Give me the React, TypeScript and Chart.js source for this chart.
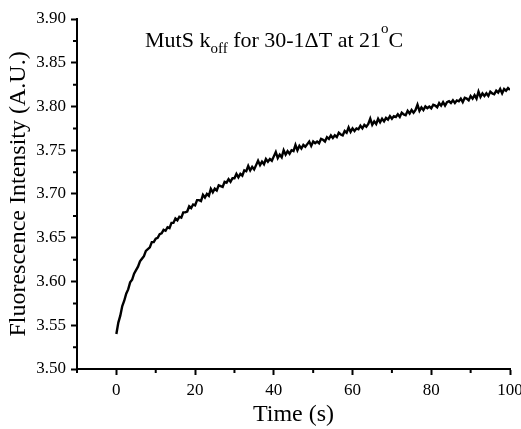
import React, { useEffect, useRef } from "react";
import { Chart, registerables } from "chart.js";

Chart.register(...registerables);

const TIME_STEP = 0.5; // seconds between samples
const intensity = [
  3.540, 3.553, 3.561, 3.572, 3.578, 3.586, 3.591, 3.599, 3.602, 3.609, 3.613, 3.617, 3.623, 3.626, 3.629, 3.635, 3.637, 3.639, 3.645, 3.645, 3.649,
  3.650, 3.654, 3.655, 3.659, 3.658, 3.662, 3.661, 3.667, 3.667, 3.672, 3.670, 3.674, 3.673, 3.679, 3.679, 3.680, 3.686, 3.684, 3.688, 3.687,
  3.693, 3.693, 3.692, 3.699, 3.696, 3.700, 3.698, 3.706, 3.702, 3.706, 3.704, 3.710, 3.709, 3.708, 3.714, 3.713, 3.717, 3.714, 3.718, 3.718,
  3.723, 3.719, 3.723, 3.721, 3.727, 3.726, 3.732, 3.727, 3.731, 3.728, 3.733, 3.738, 3.733, 3.737, 3.734, 3.740, 3.737, 3.740, 3.738, 3.743,
  3.748, 3.741, 3.745, 3.742, 3.750, 3.745, 3.749, 3.746, 3.750, 3.749, 3.756, 3.750, 3.755, 3.752, 3.756, 3.754, 3.757, 3.760, 3.755, 3.760,
  3.758, 3.760, 3.758, 3.763, 3.762, 3.760, 3.765, 3.763, 3.767, 3.764, 3.767, 3.765, 3.770, 3.768, 3.767, 3.772, 3.770, 3.776, 3.771, 3.775,
  3.772, 3.775, 3.774, 3.778, 3.775, 3.779, 3.777, 3.780, 3.786, 3.779, 3.783, 3.780, 3.786, 3.782, 3.786, 3.783, 3.787, 3.785, 3.789, 3.786,
  3.789, 3.788, 3.791, 3.788, 3.793, 3.791, 3.790, 3.795, 3.792, 3.796, 3.793, 3.796, 3.802, 3.795, 3.799, 3.796, 3.800, 3.798, 3.800, 3.798,
  3.802, 3.801, 3.799, 3.804, 3.801, 3.805, 3.801, 3.805, 3.806, 3.804, 3.807, 3.804, 3.807, 3.806, 3.809, 3.805, 3.810, 3.809, 3.807, 3.812,
  3.809, 3.813, 3.809, 3.817, 3.811, 3.815, 3.812, 3.815, 3.812, 3.817, 3.815, 3.814, 3.818, 3.816, 3.820, 3.815, 3.820, 3.818, 3.821, 3.819,
];
const time = intensity.map((_, i) => i * TIME_STEP);

const xMajorTicks = [0, 20, 40, 60, 80, 100];
const xMinorTicks = [-10, 10, 30, 50, 70, 90];
const yMajorTicks = [3.5, 3.55, 3.6, 3.65, 3.7, 3.75, 3.8, 3.85, 3.9];
const yMinorTicks = [3.525, 3.575, 3.625, 3.675, 3.725, 3.775, 3.825, 3.875];

const X_MIN = -10;
const X_MAX = 100;
const Y_MIN = 3.5;
const Y_MAX = 3.9;

const xTitle = "Time (s)";
const yTitle = "Fluorescence Intensity (A.U.)";
// title pieces: [text, kind]
const titlePieces: [string, "n" | "sub" | "sup"][] = [
  ["MutS k", "n"],
  ["off", "sub"],
  [" for 30-1\u0394T at 21", "n"],
  ["o", "sup"],
  ["C", "n"],
];

const FONT = "'Liberation Serif', 'Times New Roman', serif";

const minorTickPlugin = {
  id: "minorTicks",
  afterDraw(chart: any) {
    const ctx = chart.ctx;
    const xs = chart.scales.x;
    const ys = chart.scales.y;
    ctx.save();
    ctx.strokeStyle = "#000";
    ctx.lineWidth = 2;
    ctx.beginPath();
    xMinorTicks.forEach((v) => {
      const px = xs.getPixelForValue(v);
      ctx.moveTo(px, xs.top);
      ctx.lineTo(px, xs.top + 4);
    });
    yMinorTicks.forEach((v) => {
      const py = ys.getPixelForValue(v);
      ctx.moveTo(ys.right, py);
      ctx.lineTo(ys.right - 4, py);
    });
    ctx.stroke();
    ctx.restore();
  },
};

const titlePlugin = {
  id: "richTitle",
  afterDraw(chart: any) {
    const ctx = chart.ctx;
    const area = chart.chartArea;
    let x = area.left + 68;
    const base = area.top + 28;
    ctx.save();
    ctx.fillStyle = "#000";
    ctx.textBaseline = "alphabetic";
    ctx.textAlign = "left";
    titlePieces.forEach(([t, kind]) => {
      let size = 22;
      let y = base;
      if (kind === "sub") {
        size = 15;
        y = base + 6;
      } else if (kind === "sup") {
        size = 15;
        y = base - 14;
      }
      ctx.font = `${size}px ${FONT}`;
      ctx.fillText(t, x, y);
      x += ctx.measureText(t).width;
    });
    ctx.restore();
  },
};

export default function App() {
  const canvasRef = useRef<HTMLCanvasElement | null>(null);

  useEffect(() => {
    document.body.style.margin = "0";
    const canvas = canvasRef.current;
    if (!canvas) return;
    const chart = new Chart(canvas, {
      type: "line",
      data: {
        labels: time,
        datasets: [
          {
            data: time.map((t, i) => ({ x: t, y: intensity[i] })),
            borderColor: "#000",
            backgroundColor: "#000",
            borderWidth: 2.4,
            pointRadius: 0,
            tension: 0,
            fill: false,
          },
        ],
      },
      options: {
        animation: false,
        responsive: false,
        devicePixelRatio: 1,
        layout: { padding: { left: 0, right: 11, top: 19, bottom: 0 } },
        plugins: {
          legend: { display: false },
          tooltip: { enabled: false },
          title: { display: false },
        },
        scales: {
          x: {
            type: "linear",
            min: X_MIN,
            max: X_MAX,
            afterFit: (s: any) => {
              s.height = 60;
              s.paddingLeft = 0;
              s.paddingRight = 0;
            },
            afterBuildTicks: (s: any) => {
              s.ticks = xMajorTicks.map((v) => ({ value: v }));
            },
            grid: {
              drawOnChartArea: false,
              drawTicks: true,
              tickLength: 6,
              tickWidth: 2,
              tickColor: "#000",
              color: "#000",
            },
            border: { display: true, color: "#000", width: 2 },
            ticks: {
              color: "#000",
              font: { family: FONT, size: 17 },
              padding: 5,
              maxRotation: 0,
              autoSkip: false,
              callback: (v: any) => String(v),
            },
            title: {
              display: true,
              text: xTitle,
              color: "#000",
              font: { family: FONT, size: 24 },
              padding: { top: 0, bottom: 0 },
            },
          },
          y: {
            type: "linear",
            min: Y_MIN,
            max: Y_MAX,
            afterFit: (s: any) => {
              s.width = 77;
              s.paddingTop = 0;
              s.paddingBottom = 0;
            },
            afterBuildTicks: (s: any) => {
              s.ticks = yMajorTicks.map((v) => ({ value: v }));
            },
            grid: {
              drawOnChartArea: false,
              drawTicks: true,
              tickLength: 6,
              tickWidth: 2,
              tickColor: "#000",
              color: "#000",
            },
            border: { display: true, color: "#000", width: 2 },
            ticks: {
              color: "#000",
              font: { family: FONT, size: 17 },
              padding: 5,
              autoSkip: false,
              callback: (v: any) => Number(v).toFixed(2),
            },
            title: {
              display: true,
              text: yTitle,
              color: "#000",
              font: { family: FONT, size: 24 },
              padding: { top: 4, bottom: 0 },
            },
          },
        },
      },
      plugins: [minorTickPlugin, titlePlugin],
    });
    return () => chart.destroy();
  }, []);

  return (
    <div style={{ width: 521, height: 429, background: "#fff" }}>
      <canvas ref={canvasRef} width={521} height={429} style={{ display: "block" }} />
    </div>
  );
}
